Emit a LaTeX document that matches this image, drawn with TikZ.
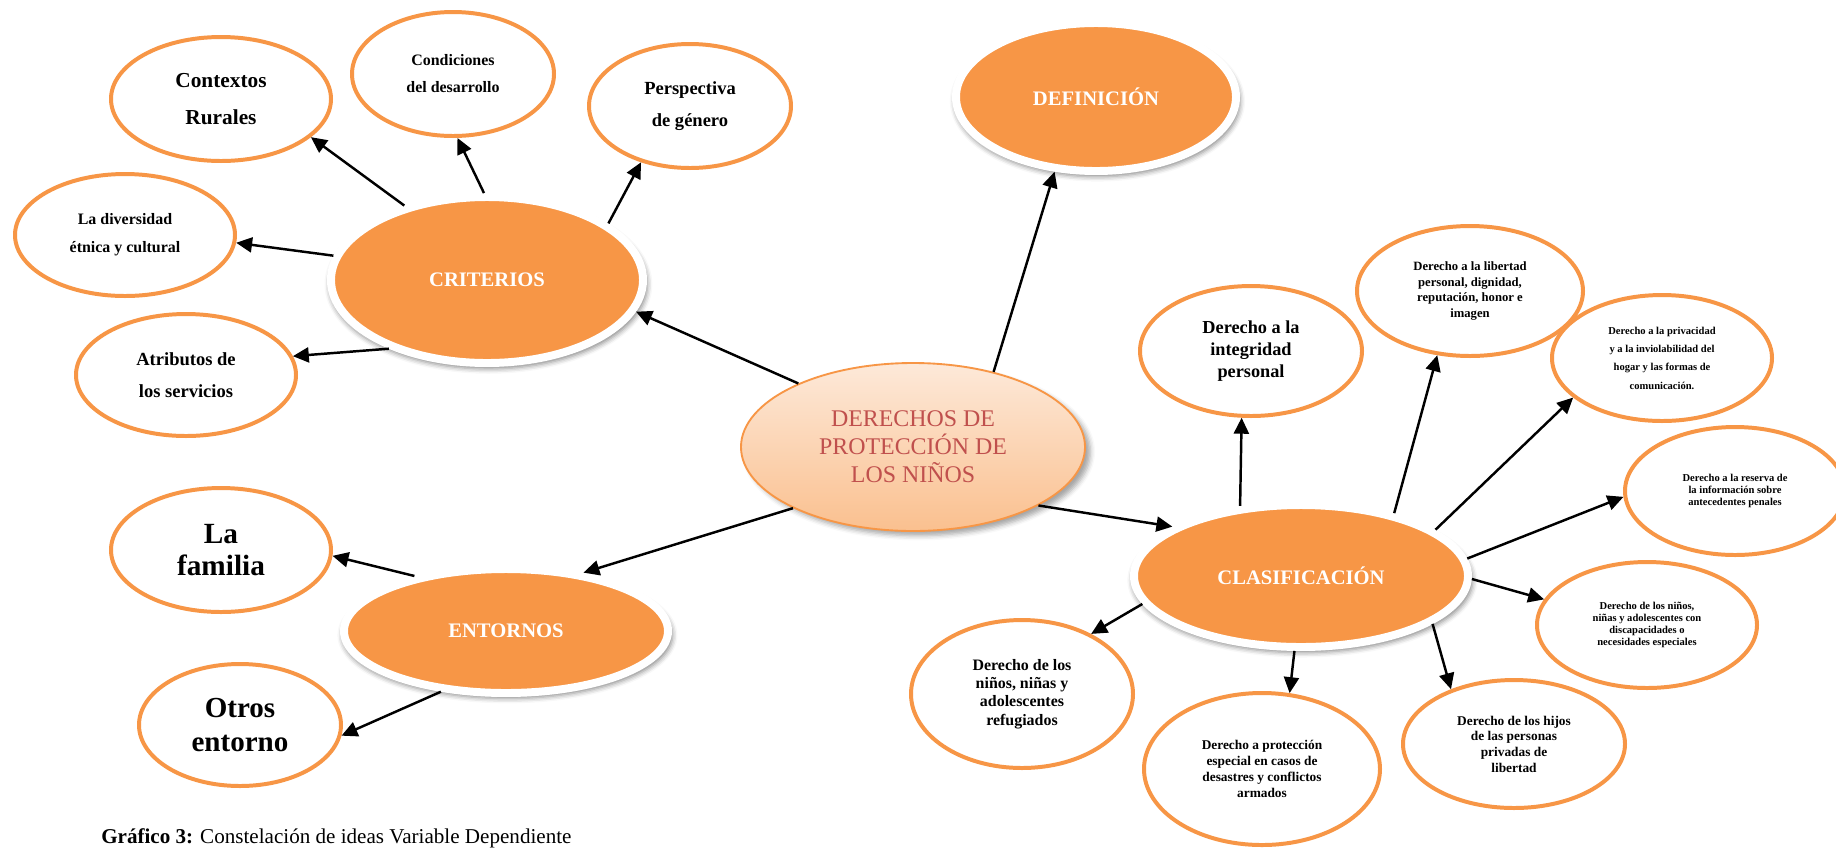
\documentclass[tikz,border=0pt]{standalone}
\usepackage{fontspec}
\setmainfont{Liberation Serif}
\usetikzlibrary{
        arrows.meta,
        shadows.blur,
        shapes.geometric
    }
\definecolor{naranja}{HTML}{F79646}
\definecolor{durazno}{HTML}{FDE9D9}
\definecolor{duraznoosc}{HTML}{FAC08F}
\definecolor{rojizo}{HTML}{C0504D}
\tikzset{>={Triangle[length=6.8pt,width=6.4pt]}, x=0.015cm, y=-0.015cm}
\tikzset{
    eje/.style={ellipse, fill=naranja, draw=white, line width=3.4pt, inner sep=0pt,
                text=white, font=\bfseries\fontsize{8.8}{10}\selectfont,
                blur shadow={shadow xshift=0.6pt, shadow yshift=-1.8pt, shadow scale=1.02,
                             shadow blur radius=2pt, shadow opacity=45}},
    idea/.style={ellipse, fill=white, draw=naranja, line width=1.7pt, inner sep=0pt, align=center},
    tam/.style 2 args={font=\bfseries\fontsize{#1}{#2}\selectfont},
    flecha/.style={->, line width=1.05pt}
}

\begin{document}
\begin{tikzpicture}[]
    \useasboundingbox (0,0) rectangle (1836,853);
        % idea central
        \node[ellipse, top color=durazno, bottom color=duraznoosc, draw=naranja, line width=0.8pt,
              inner sep=0pt, align=center, text=rojizo, font=\fontsize{10.2}{12}\selectfont,
              minimum width=5.16cm, minimum height=2.52cm,
              blur shadow={shadow yshift=-2pt, shadow blur radius=2pt, shadow opacity=35}]
              (dpn) at (913,447) {DERECHOS DE\\PROTECCIÓN DE\\LOS NIÑOS};
        % ejes
        \node[eje, minimum width=4.68cm, minimum height=2.49cm] (crit) at (487,280) {CRITERIOS};
        \node[eje, minimum width=4.2cm, minimum height=2.22cm]  (defi) at (1096,97) {DEFINICIÓN};
        \node[eje, minimum width=4.86cm, minimum height=1.86cm] (ento) at (506,631) {ENTORNOS};
        \node[eje, minimum width=5.01cm, minimum height=2.13cm] (clas) at (1301,576) {CLASIFICACIÓN};
        % criterios
        \node[idea, tam={9.1}{15.8}, minimum width=3.3cm, minimum height=1.86cm]  (ctx) at (221,99) {Contextos\\Rurales};
        \node[idea, tam={6.8}{11.5}, minimum width=3.03cm, minimum height=1.86cm] (cond) at (453,74) {Condiciones\\del desarrollo};
        \node[idea, tam={7.9}{13.7}, minimum width=3.03cm, minimum height=1.86cm] (pers) at (690,106) {Perspectiva\\de género};
        \node[idea, tam={6.8}{12}, minimum width=3.3cm, minimum height=1.83cm]    (div) at (125,235) {La diversidad\\étnica y cultural};
        \node[idea, tam={7.9}{13.7}, minimum width=3.3cm, minimum height=1.83cm]  (atr) at (186,375) {Atributos de\\los servicios};
        % entornos
        \node[idea, tam={12.5}{14}, minimum width=3.3cm, minimum height=1.86cm]   (fam) at (221,550) {La\\familia};
        \node[idea, tam={12.4}{14.5}, minimum width=3.03cm, minimum height=1.83cm] (otr) at (240,725) {Otros\\entorno};
        % clasificacion
        \node[idea, tam={7.8}{9.4}, minimum width=3.33cm, minimum height=1.95cm]  (integ) at (1251,351) {Derecho a la\\integridad\\personal};
        \node[idea, tam={5.4}{6.8}, minimum width=3.39cm, minimum height=1.95cm]  (libe) at (1470,291) {Derecho a la libertad\\personal, dignidad,\\reputación, honor e\\imagen};
        \node[idea, tam={4.5}{7.8}, minimum width=3.3cm, minimum height=1.89cm]   (priv) at (1662,358) {Derecho a la privacidad\\y a la inviolabilidad del\\hogar y las formas de\\comunicación.};
        \node[idea, tam={4.5}{5.1}, minimum width=3.3cm, minimum height=1.92cm]   (rese) at (1735,491) {Derecho a la reserva de\\la información sobre\\antecedentes penales};
        \node[idea, tam={4.5}{5}, minimum width=3.3cm, minimum height=1.89cm]     (disc) at (1647,625) {Derecho de los niños,\\niñas y adolescentes con\\discapacidades o\\necesidades especiales};
        \node[idea, tam={5.7}{6.7}, minimum width=3.33cm, minimum height=1.92cm]  (hijo) at (1514,744) {Derecho de los hijos\\de las personas\\privadas de\\libertad};
        \node[idea, tam={5.7}{6.8}, minimum width=3.54cm, minimum height=2.28cm]  (prot) at (1262,769) {Derecho a protección\\especial en casos de\\desastres y conflictos\\armados};
        \node[idea, tam={6.8}{7.8}, minimum width=3.33cm, minimum height=2.22cm]  (refu) at (1022,694) {Derecho de los\\niños, niñas y\\adolescentes\\refugiados};
        % pie
        \node[anchor=base west, font=\fontsize{9}{11}\selectfont] (pie) at (93,843)
              {\textbf{Gráfico 3:} Constelación de ideas Variable Dependiente};
    \path[flecha]
            (dpn.151)   edge (crit.-12)
            (dpn.43.5)  edge (defi.-119)
            (dpn.-153)  edge (ento.37)
            (dpn.-25)   edge (clas.159.5)
            (crit.138)  edge (ctx.-23)
            (crit.92.7) edge (cond.-86.4)
            (crit.25.6) edge (pers.-131)
            (crit.171.7) edge (div.-4)
            (crit.-145.8) edge (atr.10.6)
            (ento.149.3) edge (fam.-3.6)
            (ento.-137.7) edge (otr.-6.6)
            (clas.131)  edge (integ.-98.2)
            (clas.34.5) edge (libe.-117.6)
            (clas.19.2) edge (priv.-156.2)
            (clas.6.9)  edge (rese.-177.5)
            (clas.-1.4) edge (disc.166.7)
            (clas.-20)  edge (hijo.139.8)
            (clas.-95.6) edge (prot.70.7)
            (clas.-170.8) edge (refu.41.8)
            ;
\end{tikzpicture}
\end{document}
